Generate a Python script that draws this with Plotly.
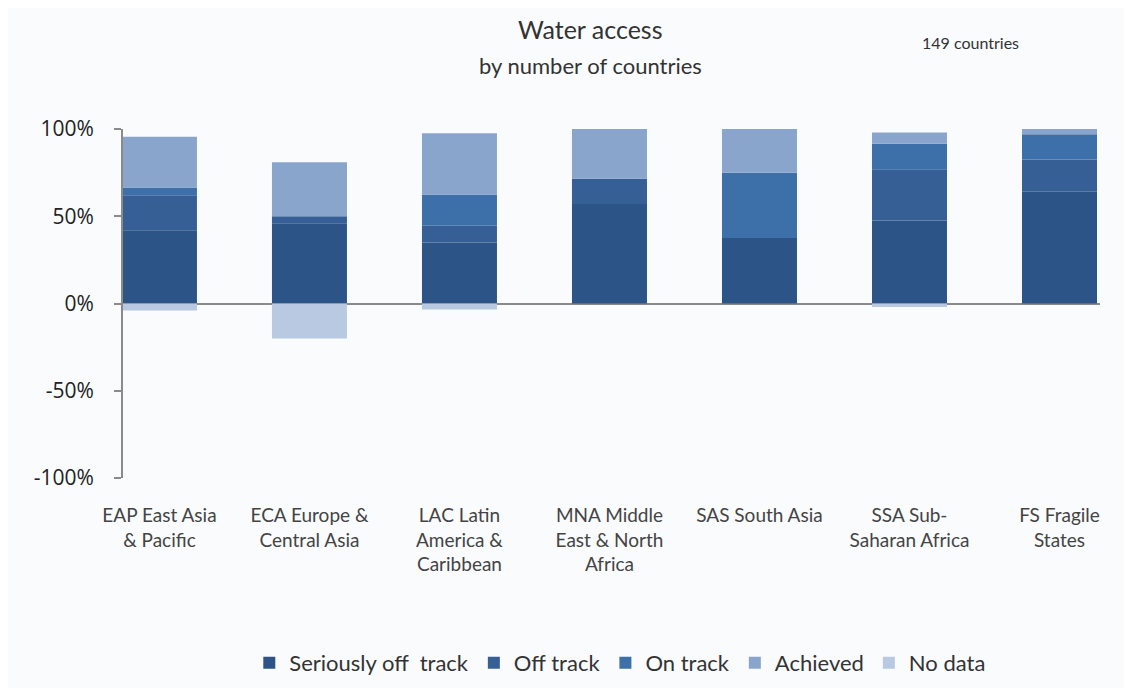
import plotly.graph_objects as go

categories = [
    "EAP East Asia<br>& Pacific",
    "ECA Europe &<br>Central Asia",
    "LAC Latin<br>America &<br>Caribbean",
    "MNA Middle<br>East & North<br>Africa",
    "SAS South Asia",
    "SSA Sub-<br>Saharan Africa",
    "FS Fragile<br>States",
]

seriously_off_track = [42, 46, 35, 57, 37.5, 47.5, 64]
off_track = [20, 4, 9.5, 14.5, 0, 29.5, 18.5]
on_track = [4.5, 0, 18, 0, 37.5, 14.5, 14.5]
achieved = [29, 31, 35, 28.5, 25, 6.5, 3]
no_data = [-4, -20, -3.5, 0, 0, -2, 0]

series_names = ["Seriously off\u00a0 track", "Off track", "On track", "Achieved", "No data"]
series_values = [seriously_off_track, off_track, on_track, achieved, no_data]
series_colors = ["#2c5487", "#365f95", "#3d70a8", "#8aa5cc", "#b8c9e1"]

font_family = "Lato, 'Open Sans', sans-serif"

fig = go.Figure()
for name, vals, col in zip(series_names, series_values, series_colors):
    fig.add_trace(go.Bar(
        x=categories, y=vals, name=name,
        marker=dict(color=col, line=dict(width=0)),
        width=0.5,
    ))

fig.update_layout(
    barmode="relative",
    width=1116, height=680,
    margin=dict(l=115, r=24, t=121, b=210, autoexpand=False),
    paper_bgcolor="#f9fbfd",
    plot_bgcolor="#f9fbfd",
    font=dict(family=font_family, color="#333333"),
    showlegend=True,
    legend=dict(
        orientation="h", x=0.509, xanchor="center", y=-0.53, yanchor="middle",
        font=dict(size=22, color="#333333", family=font_family),
        itemwidth=30, traceorder="normal",
        bgcolor="rgba(0,0,0,0)",
    ),
    xaxis=dict(
        range=[-0.243, 6.27],
        showgrid=False, showline=False, zeroline=False,
        ticks="", tickfont=dict(size=19, color="#444444", family=font_family),
        ticklabelstandoff=24, automargin=False,
        fixedrange=True,
    ),
    yaxis=dict(
        range=[-100, 100],
        tickvals=[-100, -50, 0, 50, 100],
        ticktext=["-100%", "-50%", "0%", "50%", "100%"],
        showgrid=False, showline=True, linecolor="#8a8a8a", linewidth=2,
        ticks="outside", ticklen=7, tickcolor="#8a8a8a", tickwidth=2,
        zeroline=True, zerolinecolor="#8a8a8a", zerolinewidth=2,
        tickfont=dict(size=21, color="#222222", family="'Open Sans', sans-serif"),
        ticklabelstandoff=16, automargin=False,
        fixedrange=True,
    ),
    annotations=[
        dict(text="Water access", x=0.478, y=1.287, xref="paper", yref="paper",
             showarrow=False, font=dict(size=25, color="#333333", family=font_family),
             xanchor="center", yanchor="middle"),
        dict(text="by number of countries", x=0.478, y=1.183, xref="paper", yref="paper",
             showarrow=False, font=dict(size=22, color="#333333", family=font_family),
             xanchor="center", yanchor="middle"),
        dict(text="149 countries", x=0.867, y=1.249, xref="paper", yref="paper",
             showarrow=False, font=dict(size=16, color="#333333", family=font_family),
             xanchor="center", yanchor="middle"),
    ],
)

fig.write_html("out.html")
